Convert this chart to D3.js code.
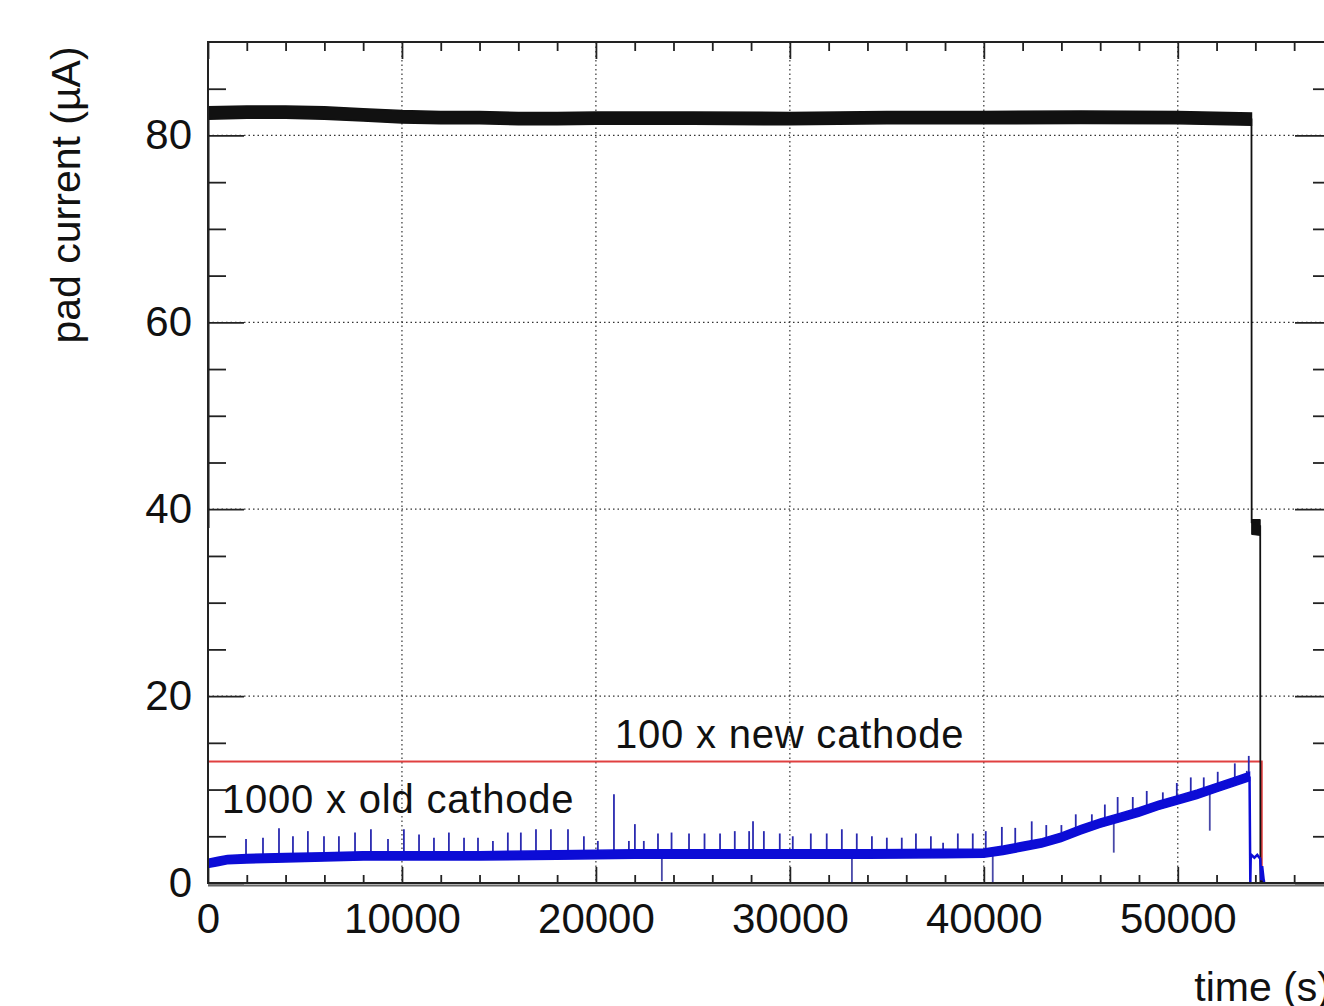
<!DOCTYPE html>
<html><head><meta charset="utf-8">
<script src="https://cdn.jsdelivr.net/npm/d3@7"></script>
<style>body{margin:0;background:#fff}</style>
</head><body>
<svg id="c" width="1324" height="1006"></svg>
<script>
// ---- data ----
const xMajor = [0, 10000, 20000, 30000, 40000, 50000];
const xMinor = [2000,4000,6000,8000,12000,14000,16000,18000,22000,24000,26000,28000,32000,34000,36000,38000,42000,44000,46000,48000,52000,54000,56000];
const yMajor = [0, 20, 40, 60, 80];
const yMinor = [5,10,15,25,30,35,45,50,55,65,70,75,85];
const gridX = [10000, 20000, 30000, 40000, 50000];
const gridY = [0, 20, 40, 60, 80];

// black trace (pad current): noisy band, mid value and half width
const blackT   = [0, 2000, 4000, 6000, 8000, 10000, 12000, 14000, 16000, 18000, 20000, 25000, 30000, 35000, 40000, 45000, 50000, 53800];
const blackMid = [82.4, 82.5, 82.5, 82.4, 82.2, 82.0, 81.9, 81.9, 81.8, 81.8, 81.85, 81.85, 81.8, 81.9, 81.9, 81.95, 81.9, 81.75];
const blackHalf = 0.66;
const blackEdgeT = [0, 0];
const blackEdgeV = [38.0, 82.4];
const blackTailT = [53800, 53810, 54250, 54260, 54500];
const blackTailV = [81.8, 38.6, 38.2, 0.2, 0.2];
const blackChunkT  = [53810, 54250];
const blackChunkLo = [37.3, 37.2];
const blackChunkHi = [38.9, 38.9];

// blue trace (scaled cathode current): band mid values
const blueT   = [0, 500, 1000, 2000, 4000, 6000, 8000, 10000, 14000, 18000, 22000, 26000, 30000, 34000, 38000, 40000, 41000, 42000, 43000, 44000, 45000, 46000, 47000, 48000, 49000, 50000, 51000, 52000, 53000, 53700];
const blueMid = [2.1, 2.3, 2.5, 2.6, 2.7, 2.8, 2.9, 2.9, 2.9, 3.0, 3.1, 3.1, 3.1, 3.1, 3.15, 3.2, 3.5, 3.9, 4.3, 4.9, 5.7, 6.4, 7.0, 7.6, 8.3, 8.9, 9.5, 10.2, 10.9, 11.4];
const blueHalf = 0.45;
// upward spikes: time and top value
const spikeT = [0,1960,2835,3660,4380,5150,5980,6750,7580,8400,9280,10100,10880,11650,12420,13200,13920,14690,15460,16130,16910,17680,18560,19380,20100,20930,21700,22010,22470,23200,23900,24800,25600,26400,27160,27900,28100,28660,29480,30150,31080,31900,32680,33450,34230,35000,35770,36500,37270,37900,38660,39430,40100,40930,41620,42470,43220,44000,44740,45570,46240,46900,47680,48400,49230,49950,50670,51340,52060,52940,53560,53660];
const spikeTop = [7.0,4.7,4.85,5.85,5.0,5.55,5.0,5.0,5.4,5.75,4.7,5.75,5.2,4.85,5.4,4.85,4.85,4.5,5.4,5.4,5.75,5.75,5.75,5.0,4.5,9.5,4.5,6.3,4.5,5.3,5.4,5.3,5.3,5.3,5.55,5.55,6.6,5.55,5.3,5.0,5.3,5.3,5.75,5.3,5.0,4.85,4.85,5.3,5.0,4.3,5.3,5.3,5.55,6.0,5.9,6.6,6.2,6.2,7.35,7.35,8.4,9.2,9.2,9.85,9.7,10.7,11.3,11.3,11.9,12.8,12.0,13.6];
// downward spikes
const dipT = [23400, 33200, 40460, 46700, 51650];
const dipBottom = [0.2, 0.0, 0.0, 3.25, 5.6];
const blueTailT = [53700, 53740, 53760, 53800, 53950, 54100, 54250, 54300, 54350, 54420, 54450];
const blueTailV = [11.4, 0.1, 2.6, 3.0, 2.7, 3.0, 2.6, 0.3, 1.8, 0.5, 0.1];

// red box and labels
const boxT = [0, 54330];
const boxV = [0, 13.0];
const labels = [
  {text: "100 x new cathode", t: 20980, v: 14.45},
  {text: "1000 x old cathode", t: 720, v: 7.5}
];
const xTitle = "time (s)";
const yTitle = "pad current (\u00b5A)";

// ---- drawing ----
const FONT = "'Liberation Sans', Arial, Helvetica, sans-serif";
const L = 208, R = 1331, T = 42, B = 883;
const x = d3.scaleLinear().domain([0, 57900]).range([L, R]);
const y = d3.scaleLinear().domain([0, 90]).range([B, T]);
const svg = d3.select("#c");
svg.append("rect").attr("width",1324).attr("height",1006).attr("fill","#fff");

svg.append("clipPath").attr("id","clip").append("rect")
  .attr("x",L).attr("y",T).attr("width",R-L).attr("height",B-T);

// grid
const g = svg.append("g").attr("stroke","#333").attr("stroke-width",1.2).attr("stroke-dasharray","1.5,3");
g.selectAll(".gx").data(gridX).join("line")
  .attr("x1",d=>x(d)).attr("x2",d=>x(d)).attr("y1",T).attr("y2",B);
g.selectAll(".gy").data(gridY).join("line")
  .attr("x1",L).attr("x2",R).attr("y1",d=>y(d)).attr("y2",d=>y(d));

// axes
function styleAxis(sel){
  sel.select(".domain").remove();
  sel.selectAll(".tick line").attr("stroke","#222").attr("stroke-width",1.8);
  sel.selectAll(".tick text").attr("fill","#111").style("font-family",FONT).style("font-size","42px");
}
svg.append("g").attr("transform",`translate(0,${B})`)
  .call(d3.axisBottom(x).tickValues(xMajor).tickSize(-16).tickPadding(20).tickFormat(d3.format("d"))).call(styleAxis);
svg.append("g").attr("transform",`translate(0,${B})`)
  .call(d3.axisBottom(x).tickValues(xMinor).tickSize(-8).tickFormat("")).call(styleAxis);
svg.append("g").attr("transform",`translate(0,${T})`)
  .call(d3.axisTop(x).tickValues(xMajor).tickSize(-17).tickFormat("")).call(styleAxis);
svg.append("g").attr("transform",`translate(0,${T})`)
  .call(d3.axisTop(x).tickValues(xMinor).tickSize(-9).tickFormat("")).call(styleAxis);
svg.append("g").attr("transform",`translate(${L},0)`)
  .call(d3.axisLeft(y).tickValues(yMajor).tickSize(-36).tickPadding(16)).call(styleAxis);
svg.append("g").attr("transform",`translate(${L},0)`)
  .call(d3.axisLeft(y).tickValues(yMinor).tickSize(-18).tickFormat("")).call(styleAxis);
svg.append("g").attr("transform",`translate(${R},0)`)
  .call(d3.axisRight(y).tickValues(yMajor).tickSize(-36).tickFormat("")).call(styleAxis);
svg.append("g").attr("transform",`translate(${R},0)`)
  .call(d3.axisRight(y).tickValues(yMinor).tickSize(-18).tickFormat("")).call(styleAxis);

const plot = svg.append("g").attr("clip-path","url(#clip)");

// red box
plot.append("rect")
  .attr("x", x(boxT[0])).attr("y", y(boxV[1]))
  .attr("width", x(boxT[1]) - x(boxT[0])).attr("height", y(boxV[0]) - y(boxV[1]))
  .attr("fill","none").attr("stroke","#e04040").attr("stroke-width",2);

// black band
const bIdx = d3.range(blackT.length);
plot.append("path").datum(bIdx)
  .attr("d", d3.area().x(i=>x(blackT[i])).y0(i=>y(blackMid[i]-blackHalf)).y1(i=>y(blackMid[i]+blackHalf)))
  .attr("fill","#111").attr("stroke","#111").attr("stroke-width",1.5);
plot.append("path").datum(d3.range(blackEdgeT.length))
  .attr("d", d3.line().x(i=>x(blackEdgeT[i])).y(i=>y(blackEdgeV[i])))
  .attr("fill","none").attr("stroke","#111").attr("stroke-width",3);
plot.append("path").datum(d3.range(blackChunkT.length))
  .attr("d", d3.area().x(i=>x(blackChunkT[i])).y0(i=>y(blackChunkLo[i])).y1(i=>y(blackChunkHi[i])))
  .attr("fill","#111").attr("stroke","#111").attr("stroke-width",1);
plot.append("path").datum(d3.range(blackTailT.length))
  .attr("d", d3.line().x(i=>x(blackTailT[i])).y(i=>y(blackTailV[i])))
  .attr("fill","none").attr("stroke","#111").attr("stroke-width",1.8);

// blue
const blueAt = d3.scaleLinear().domain(blueT).range(blueMid);
plot.append("g").selectAll("line").data(d3.range(spikeT.length)).join("line")
  .attr("x1",i=>x(spikeT[i])).attr("x2",i=>x(spikeT[i]))
  .attr("y1",i=>y(blueAt(spikeT[i]))).attr("y2",i=>y(spikeTop[i]))
  .attr("stroke","#2a2ab0").attr("stroke-width",1.8);
plot.append("g").selectAll("line").data(d3.range(dipT.length)).join("line")
  .attr("x1",i=>x(dipT[i])).attr("x2",i=>x(dipT[i]))
  .attr("y1",i=>y(blueAt(dipT[i]))).attr("y2",i=>y(dipBottom[i]))
  .attr("stroke","#4848a8").attr("stroke-width",1.8);
plot.append("path").datum(d3.range(blueT.length))
  .attr("d", d3.area().x(i=>x(blueT[i])).y0(i=>y(blueMid[i]-blueHalf)).y1(i=>y(blueMid[i]+blueHalf)))
  .attr("fill","#0c0cd6").attr("stroke","#0c0cd6").attr("stroke-width",1.5);
plot.append("path").datum(d3.range(blueTailT.length))
  .attr("d", d3.line().x(i=>x(blueTailT[i])).y(i=>y(blueTailV[i])))
  .attr("fill","none").attr("stroke","#0c0cd6").attr("stroke-width",2.5);

// frame
svg.append("rect").attr("x",L).attr("y",T).attr("width",R-L).attr("height",B-T)
  .attr("fill","none").attr("stroke","#222").attr("stroke-width",2);
svg.append("line").attr("x1",L).attr("x2",R).attr("y1",B+2.5).attr("y2",B+2.5)
  .attr("stroke","#666").attr("stroke-width",2);

// labels
svg.append("g").selectAll("text").data(labels).join("text")
  .attr("x",d=>x(d.t)).attr("y",d=>y(d.v)).text(d=>d.text)
  .attr("fill","#111").style("font-family",FONT).style("font-size","40px").style("letter-spacing","0.8px");

svg.append("text").attr("x",R).attr("y",1001).attr("text-anchor","end").text(xTitle)
  .attr("fill","#111").style("font-family",FONT).style("font-size","41px");
svg.append("text").attr("transform","translate(80,195) rotate(-90)").attr("text-anchor","middle").text(yTitle)
  .attr("fill","#111").style("font-family",FONT).style("font-size","41px");
</script>
</body></html>
